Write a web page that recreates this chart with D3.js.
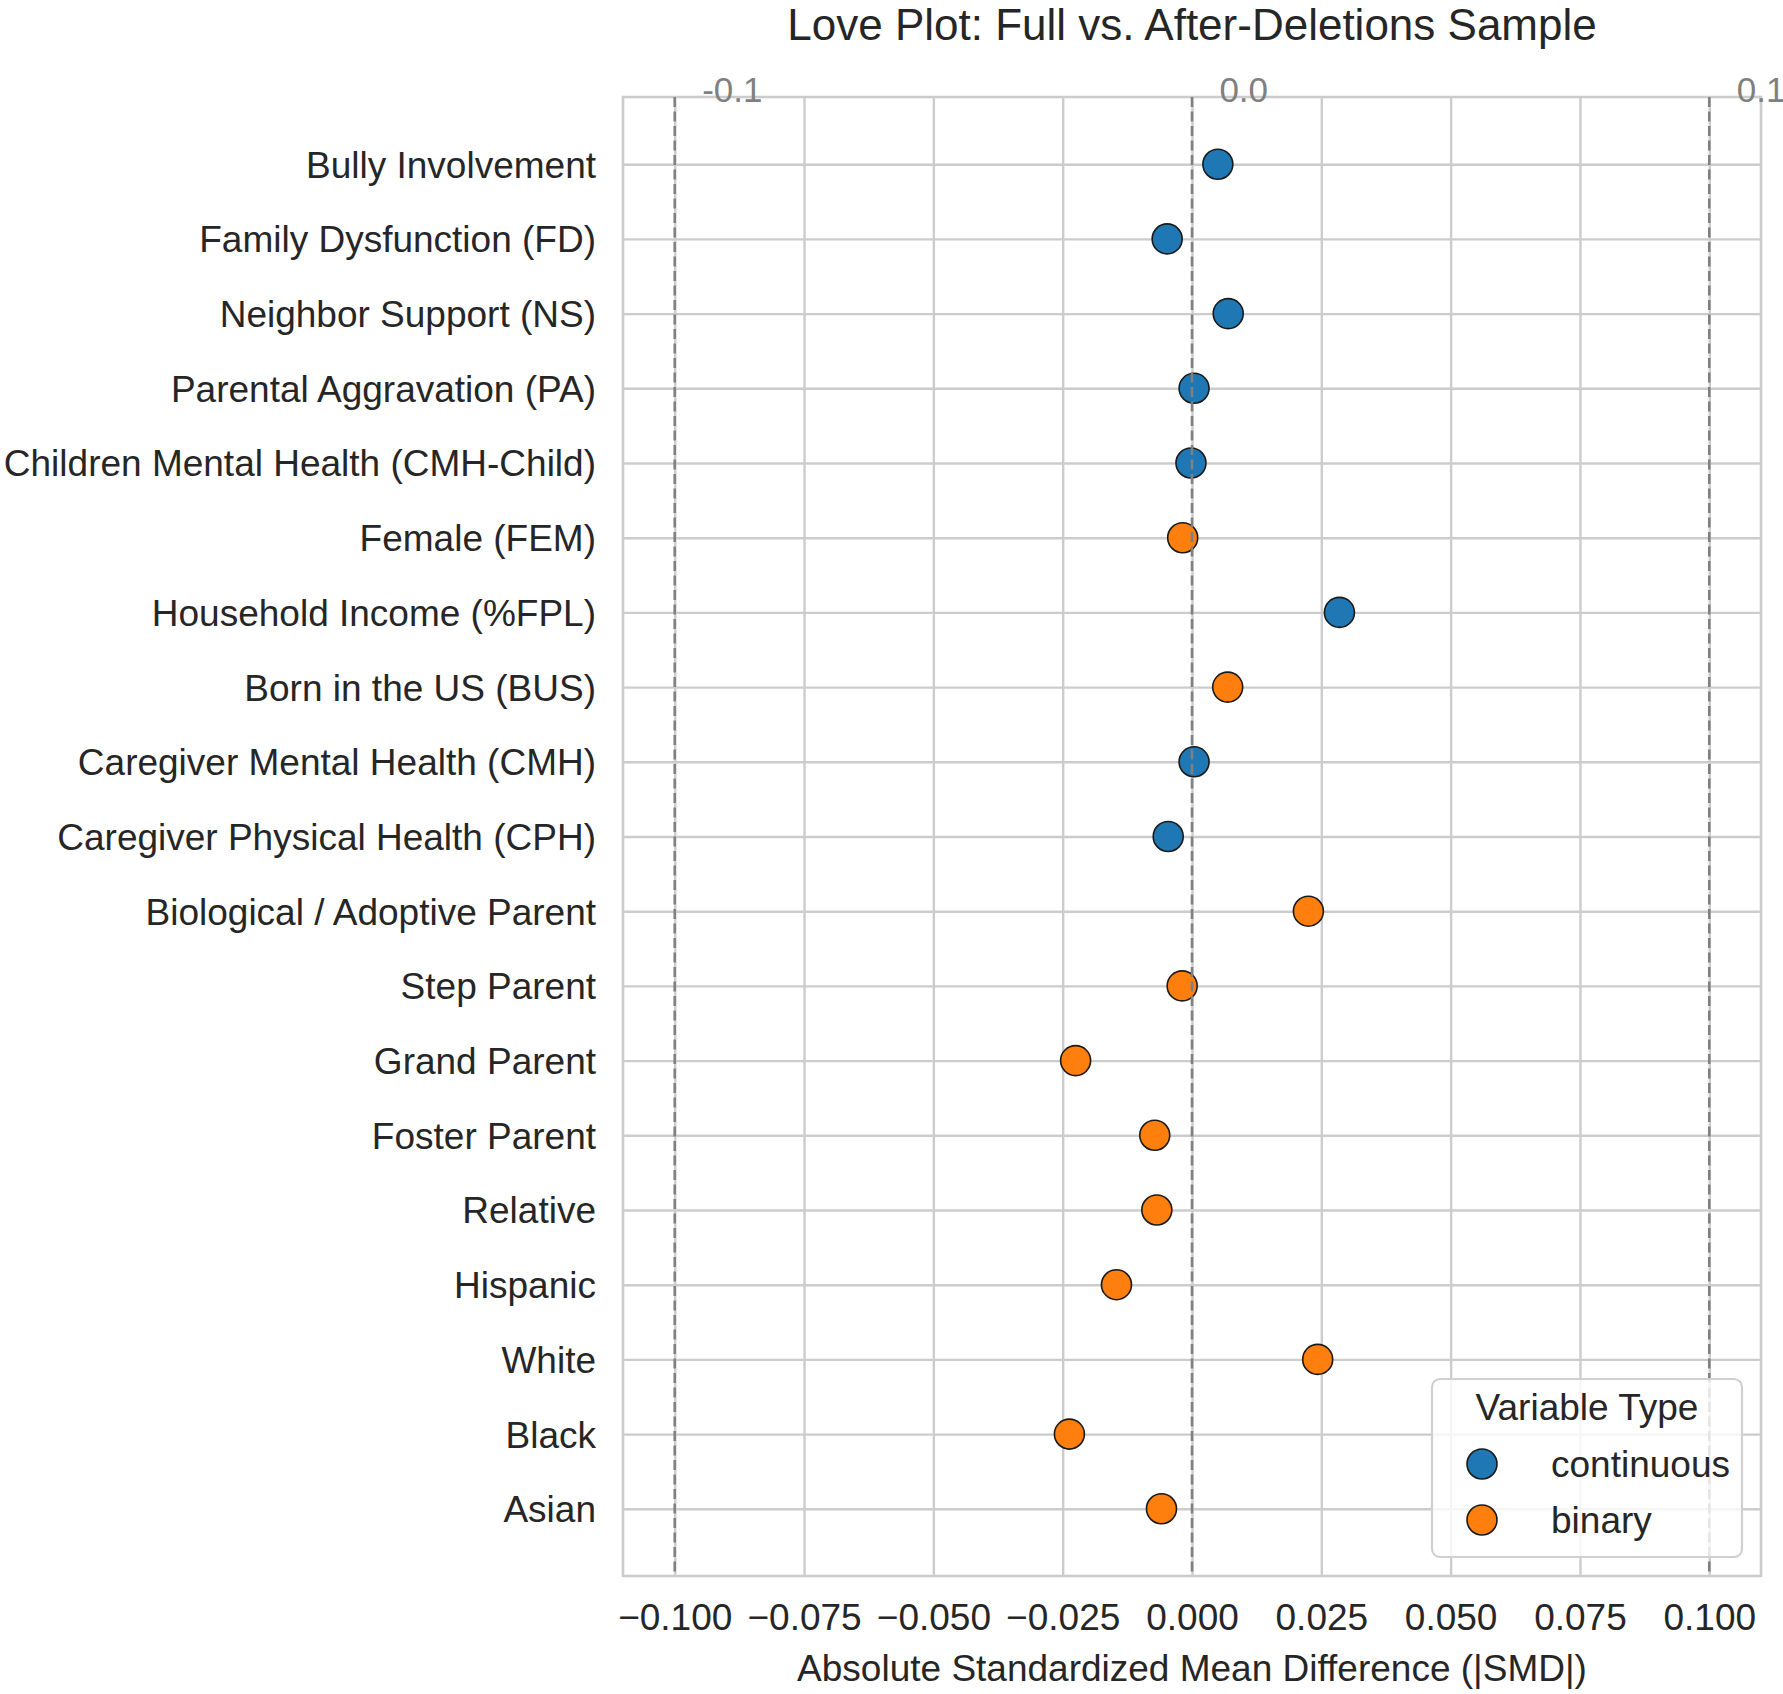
<!DOCTYPE html>
<html>
<head>
<meta charset="utf-8">
<script src="https://cdn.jsdelivr.net/npm/d3@7"></script>
<style>
  html, body { margin: 0; padding: 0; background: #ffffff; }
  svg { display: block; }
  text { font-family: "Liberation Sans", Arial, Helvetica, sans-serif; }
</style>
</head>
<body>
<svg id="chart" width="1783" height="1694"></svg>
<script>
// ---- data ----
const categories = [
  "Bully Involvement",
  "Family Dysfunction (FD)",
  "Neighbor Support (NS)",
  "Parental Aggravation (PA)",
  "Children Mental Health (CMH-Child)",
  "Female (FEM)",
  "Household Income (%FPL)",
  "Born in the US (BUS)",
  "Caregiver Mental Health (CMH)",
  "Caregiver Physical Health (CPH)",
  "Biological / Adoptive Parent",
  "Step Parent",
  "Grand Parent",
  "Foster Parent",
  "Relative",
  "Hispanic",
  "White",
  "Black",
  "Asian"
];
const smdValues = [
  0.0050, -0.0048, 0.0070, 0.0004, -0.0002, -0.0018, 0.0285, 0.0069, 0.0004, -0.0046,
  0.0225, -0.0019, -0.0225, -0.0072, -0.0068, -0.0146, 0.0243, -0.0237, -0.0059
];
const varTypes = [
  "continuous", "continuous", "continuous", "continuous", "continuous", "binary",
  "continuous", "binary", "continuous", "continuous", "binary", "binary", "binary",
  "binary", "binary", "binary", "binary", "binary", "binary"
];
const typeNames = ["continuous", "binary"];
const typeColors = ["#1f77b4", "#ff7f0e"];
const xTicks = [-0.100, -0.075, -0.050, -0.025, 0.000, 0.025, 0.050, 0.075, 0.100];
const refLines = [-0.1, 0.0, 0.1];
const refLabels = ["-0.1", "0.0", "0.1"];
const titleText = "Love Plot: Full vs. After-Deletions Sample";
const xLabelText = "Absolute Standardized Mean Difference (|SMD|)";
const legendTitle = "Variable Type";

// ---- layout ----
const W = 1783, H = 1694;
const plot = { left: 623, right: 1761, top: 97, bottom: 1576 };
const svg = d3.select("#chart");

const x = d3.scaleLinear().domain([-0.11, 0.11]).range([plot.left, plot.right]);
const y = d3.scaleLinear().domain([-0.9, categories.length - 1 + 0.9]).range([plot.top, plot.bottom]);
const color = d3.scaleOrdinal().domain(typeNames).range(typeColors);

const gridColor = "#cccccc";
const textColor = "#262626";

// background
svg.append("rect").attr("x", 0).attr("y", 0).attr("width", W).attr("height", H).attr("fill", "#fff");

// grid (vertical via axis)
const gx = svg.append("g")
  .attr("transform", `translate(0,${plot.bottom})`)
  .call(d3.axisBottom(x).tickValues(xTicks)
        .tickSize(-(plot.bottom - plot.top))
        .tickPadding(28)
        .tickFormat(d => d3.format(".3f")(d).replace("-", "\u2212")));
gx.select(".domain").remove();
gx.selectAll(".tick line").attr("stroke", gridColor).attr("stroke-width", 2.4);
gx.selectAll(".tick text")
  .attr("fill", textColor)
  .attr("font-size", 37)
  .attr("dy", null)
  .attr("y", 54)
  .style("font-family", '"Liberation Sans", Arial, sans-serif');

// horizontal grid via y axis
const yBand = d3.scalePoint().domain(categories).range([y(0), y(categories.length - 1)]);
const gy = svg.append("g")
  .attr("transform", `translate(${plot.left},0)`)
  .call(d3.axisLeft(yBand)
        .tickSize(-(plot.right - plot.left))
        .tickPadding(27));
gy.select(".domain").remove();
gy.selectAll(".tick line").attr("stroke", gridColor).attr("stroke-width", 2.4);
gy.selectAll(".tick text")
  .attr("fill", textColor)
  .attr("font-size", 37)
  .attr("dy", "0.35em")
  .style("font-family", '"Liberation Sans", Arial, sans-serif');

// spines
svg.append("rect")
  .attr("x", plot.left).attr("y", plot.top)
  .attr("width", plot.right - plot.left).attr("height", plot.bottom - plot.top)
  .attr("fill", "none").attr("stroke", gridColor).attr("stroke-width", 2.6);

// points
const pts = categories.map((c, i) => ({ cat: c, v: smdValues[i], t: varTypes[i], i }));
svg.append("g").selectAll("circle")
  .data(pts).join("circle")
  .attr("cx", d => x(d.v))
  .attr("cy", d => y(d.i))
  .attr("r", 15)
  .attr("fill", d => color(d.t))
  .attr("stroke", "#1a1a1a")
  .attr("stroke-width", 1.6);

// reference dashed lines
svg.append("g").selectAll("line")
  .data(refLines).join("line")
  .attr("x1", d => x(d)).attr("x2", d => x(d))
  .attr("y1", plot.top).attr("y2", plot.bottom)
  .attr("stroke", "#808080")
  .attr("stroke-width", 2.6)
  .attr("stroke-dasharray", "10,4.5");

// reference labels on top
svg.append("g").selectAll("text")
  .data(refLines).join("text")
  .attr("x", d => x(d + 0.0053))
  .attr("y", y(-1))
  .attr("dy", "0.36em")
  .attr("text-anchor", "start")
  .attr("fill", "#808080")
  .attr("font-size", 35)
  .text((d, i) => refLabels[i]);

// title
svg.append("text")
  .attr("x", (plot.left + plot.right) / 2)
  .attr("y", 40)
  .attr("text-anchor", "middle")
  .attr("fill", textColor)
  .attr("font-size", 44)
  .text(titleText);

// x label
svg.append("text")
  .attr("x", (plot.left + plot.right) / 2)
  .attr("y", 1681)
  .attr("text-anchor", "middle")
  .attr("fill", textColor)
  .attr("font-size", 37)
  .text(xLabelText);

// legend
const lg = { x: 1432, y: 1379, w: 310, h: 178 };
const legend = svg.append("g");
legend.append("rect")
  .attr("x", lg.x).attr("y", lg.y).attr("width", lg.w).attr("height", lg.h)
  .attr("rx", 8).attr("ry", 8)
  .attr("fill", "#ffffff").attr("fill-opacity", 0.8)
  .attr("stroke", "#d0d0d0").attr("stroke-width", 2.2);
legend.append("text")
  .attr("x", lg.x + lg.w / 2)
  .attr("y", 1420)
  .attr("text-anchor", "middle")
  .attr("fill", textColor)
  .attr("font-size", 37)
  .text(legendTitle);
const legendRowY = d3.scalePoint().domain(typeNames).range([1464, 1520]);
const items = legend.selectAll("g.item").data(typeNames).join("g").attr("class", "item");
items.append("circle")
  .attr("cx", 1482).attr("cy", d => legendRowY(d)).attr("r", 15)
  .attr("fill", d => color(d))
  .attr("stroke", "#1a1a1a").attr("stroke-width", 1.6);
items.append("text")
  .attr("x", 1551).attr("y", d => legendRowY(d))
  .attr("dy", "0.35em")
  .attr("fill", textColor)
  .attr("font-size", 37)
  .text(d => d);
</script>
</body>
</html>
